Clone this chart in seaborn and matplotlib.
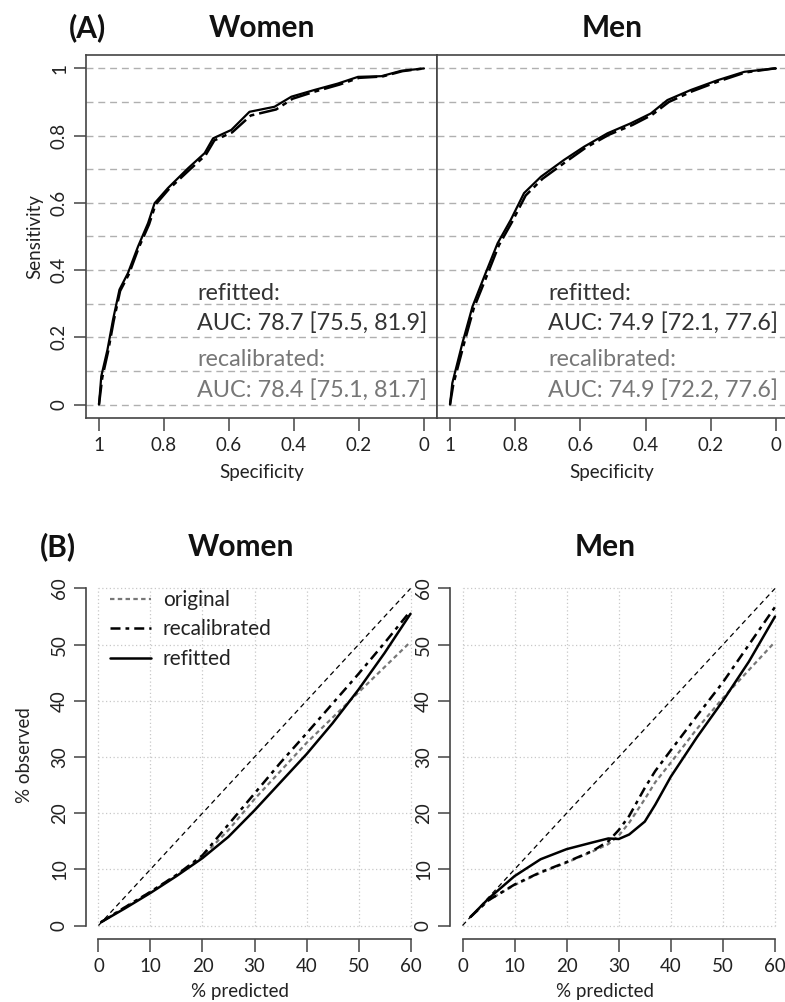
import matplotlib
matplotlib.use("Agg")
import matplotlib.pyplot as plt
import pandas as pd
import seaborn as sns

sns.set_style("white")
plt.rcParams["font.family"] = ["Lato", "DejaVu Sans"]

# ---- (A) ROC curves: specificity / sensitivity ----
women_refit_spec = [1.0, 0.993, 0.974, 0.957, 0.937, 0.911, 0.88, 0.849, 0.829, 0.788, 0.726,
                    0.675, 0.649, 0.593, 0.537, 0.46, 0.408, 0.337, 0.265, 0.203, 0.131, 0.07, 0.0]
women_refit_sens = [0.0, 0.084, 0.163, 0.252, 0.342, 0.391, 0.47, 0.54, 0.599, 0.644, 0.703,
                    0.748, 0.792, 0.817, 0.871, 0.886, 0.916, 0.936, 0.955, 0.975, 0.977, 0.993, 1.0]
women_recal_spec = [1.0, 0.99, 0.972, 0.955, 0.935, 0.908, 0.878, 0.846, 0.826, 0.785, 0.722,
                    0.672, 0.645, 0.59, 0.533, 0.455, 0.404, 0.333, 0.26, 0.2, 0.128, 0.066, 0.0]
women_recal_sens = [0.0, 0.08, 0.158, 0.248, 0.338, 0.388, 0.466, 0.536, 0.595, 0.641, 0.698,
                    0.742, 0.786, 0.81, 0.86, 0.878, 0.91, 0.932, 0.952, 0.972, 0.976, 0.992, 1.0]

men_refit_spec = [1.0, 0.993, 0.962, 0.931, 0.895, 0.854, 0.814, 0.773, 0.721, 0.65, 0.589,
                  0.517, 0.445, 0.384, 0.333, 0.261, 0.179, 0.097, 0.005, 0.0]
men_refit_sens = [0.0, 0.064, 0.183, 0.292, 0.381, 0.48, 0.549, 0.629, 0.678, 0.728, 0.767,
                  0.807, 0.837, 0.866, 0.906, 0.936, 0.965, 0.99, 1.0, 1.0]
men_recal_spec = [1.0, 0.99, 0.958, 0.927, 0.89, 0.85, 0.81, 0.768, 0.716, 0.645, 0.584,
                  0.512, 0.44, 0.38, 0.329, 0.257, 0.175, 0.094, 0.005, 0.0]
men_recal_sens = [0.0, 0.06, 0.178, 0.287, 0.376, 0.474, 0.543, 0.622, 0.672, 0.722, 0.764,
                  0.803, 0.832, 0.862, 0.9, 0.932, 0.962, 0.988, 1.0, 1.0]

roc_ticks = [1, 0.8, 0.6, 0.4, 0.2, 0]
roc_tick_labels = ["1", "0.8", "0.6", "0.4", "0.2", "0"]
roc_grid = [0.0, 0.1, 0.2, 0.3, 0.4, 0.5, 0.6, 0.7, 0.8, 0.9, 1.0]

women_auc = ["refitted:", "AUC: 78.7 [75.5, 81.9]", "recalibrated:", "AUC: 78.4 [75.1, 81.7]"]
men_auc = ["refitted:", "AUC: 74.9 [72.1, 77.6]", "recalibrated:", "AUC: 74.9 [72.2, 77.6]"]

# ---- (B) calibration curves: % predicted / % observed ----
women_pred = [0.5, 5, 10, 15, 20, 25, 30, 35, 40, 45, 50, 55, 60]
women_original = [0.6, 3.2, 6.0, 9.0, 12.3, 17.0, 22.5, 27.5, 32.5, 37.0, 41.5, 46.0, 50.5]
women_recal = [0.6, 3.2, 6.0, 9.0, 12.5, 18.0, 23.5, 29.0, 34.2, 39.5, 44.8, 50.3, 56.0]
women_refit = [0.6, 3.0, 5.8, 8.8, 12.0, 15.8, 20.5, 25.5, 30.5, 36.0, 42.0, 48.5, 55.5]

men_pred = [1.5, 5, 10, 15, 20, 25, 28, 30, 32, 35, 37, 40, 45, 50, 55, 60]
men_original = [1.5, 4.5, 7.2, 9.4, 11.2, 13.2, 14.5, 16.0, 18.3, 22.5, 25.5, 29.0, 35.0, 40.5, 45.5, 50.5]
men_recal = [1.5, 4.5, 7.3, 9.5, 11.3, 13.3, 15.0, 17.0, 19.5, 24.5, 27.5, 31.2, 37.3, 43.3, 50.0, 56.7]
men_refit = [1.5, 4.8, 8.8, 11.8, 13.6, 14.8, 15.5, 15.4, 16.2, 18.5, 21.5, 26.5, 33.5, 40.0, 47.0, 55.0]

diag = [0, 60]
cal_ticks = [0, 10, 20, 30, 40, 50, 60]

W, H = 785, 1002
fig = plt.figure(figsize=(W / 100, H / 100), dpi=100)


def box(left, top, right, bottom):
    return [left / W, 1 - bottom / H, (right - left) / W, (bottom - top) / H]


axis_col = "#444444"
text_col = "#222222"

# ---------------- panel A ----------------
roc_sets = [
    (box(86, 55, 437, 418), women_refit_spec, women_refit_sens, women_recal_spec, women_recal_sens, women_auc, True),
    (box(437, 55, 789, 418), men_refit_spec, men_refit_sens, men_recal_spec, men_recal_sens, men_auc, False),
]
for pos, rs, rse, cs, cse, auc, first in roc_sets:
    ax = fig.add_axes(pos)
    for g in roc_grid:
        ax.axhline(g, color="#b0b0b0", lw=1.0, linestyle=(0, (5, 3.5)), zorder=1)
    sns.lineplot(x=cs, y=cse, ax=ax, sort=False, estimator=None, color="black",
                 lw=1.8, linestyle=(0, (8, 2, 2, 2)), zorder=3)
    sns.lineplot(x=rs, y=rse, ax=ax, sort=False, estimator=None, color="black",
                 lw=1.6, zorder=4)
    ax.set_xlim(1.04, -0.04)
    ax.set_ylim(-0.04, 1.04)
    ax.set_xticks(roc_ticks)
    ax.set_xticklabels(roc_tick_labels)
    ax.set_xlabel("")
    ax.set_ylabel("")
    for s in ax.spines.values():
        s.set_visible(True)
        s.set_color(axis_col)
        s.set_linewidth(1.2)
    ax.tick_params(axis="x", direction="out", length=9, width=1.1, color=axis_col,
                   labelsize=13.5, labelcolor=text_col, pad=5, bottom=True)
    if first:
        ax.set_yticks(roc_ticks)
        ax.set_yticklabels(roc_tick_labels, rotation=90, va="center")
        ax.tick_params(axis="y", direction="out", length=9, width=1.1, color=axis_col,
                       labelsize=13.5, labelcolor=text_col, pad=4, left=True)
    else:
        ax.set_yticks([])
    ys = [0.344, 0.261, 0.160, 0.077]
    cols = ["#333333", "#333333", "#777777", "#777777"]
    for txt, yy, c in zip(auc, ys, cols):
        ax.text(0.316, yy, txt, transform=ax.transAxes, ha="left", va="center",
                fontsize=16.8, color=c, zorder=5)

# ---------------- panel B ----------------
cal_sets = [
    (box(86, 575, 423, 939), women_pred, women_original, women_recal, women_refit, True),
    (box(450, 575, 787.5, 939), men_pred, men_original, men_recal, men_refit, False),
]
for pos, xp, orig, recal, refit, first in cal_sets:
    ax = fig.add_axes(pos)
    ax.hlines(cal_ticks, 0, 60, color="#c8c8c8", lw=0.9, linestyle=(0, (1, 2)), zorder=1)
    ax.vlines(cal_ticks, 0, 60, color="#c8c8c8", lw=0.9, linestyle=(0, (1, 2)), zorder=1)
    sns.lineplot(x=diag, y=diag, ax=ax, color="black", lw=0.9,
                 linestyle=(0, (4, 3)), sort=False, estimator=None, zorder=2)
    sns.lineplot(x=xp, y=orig, ax=ax, color="#777777", lw=1.6, linestyle=(0, (2, 1.5)),
                 sort=False, estimator=None, label="original", zorder=3)
    sns.lineplot(x=xp, y=recal, ax=ax, color="black", lw=1.8, linestyle=(0, (4, 2, 1.5, 2)),
                 sort=False, estimator=None, label="recalibrated", zorder=3)
    sns.lineplot(x=xp, y=refit, ax=ax, color="black", lw=1.8,
                 sort=False, estimator=None, label="refitted", zorder=4)
    ax.set_xlim(-2.4, 62.4)
    ax.set_ylim(-2.4, 62.4)
    ax.set_xticks(cal_ticks)
    ax.set_yticks(cal_ticks)
    ax.set_yticklabels([str(t) for t in cal_ticks], rotation=90, va="center")
    ax.set_xlabel("")
    ax.set_ylabel("")
    for side in ["top", "right"]:
        ax.spines[side].set_visible(False)
    for side in ["left", "bottom"]:
        ax.spines[side].set_visible(True)
        ax.spines[side].set_color(axis_col)
        ax.spines[side].set_linewidth(1.2)
        ax.spines[side].set_bounds(0, 60)
    ax.tick_params(direction="out", length=9, width=1.1, color=axis_col,
                   labelsize=13.5, labelcolor=text_col, left=True, bottom=True)
    ax.tick_params(axis="x", pad=5)
    ax.tick_params(axis="y", pad=4)
    if first:
        ax.legend(loc="upper left", frameon=False, fontsize=15, handlelength=2.0,
                  handletextpad=0.55, labelspacing=0.45, bbox_to_anchor=(0.015, 1.01),
                  labelcolor="#222222")
    else:
        ax.get_legend().remove()

# ---------------- titles and labels ----------------
title_kw = dict(fontsize=21.5, fontweight="bold", ha="center", va="center", color="#111111")
fig.text(87 / W, 1 - 28 / H, "(A)", **title_kw)
fig.text(262 / W, 1 - 28 / H, "Women", **title_kw)
fig.text(612 / W, 1 - 28 / H, "Men", **title_kw)
fig.text(58 / W, 1 - 547 / H, "(B)", **title_kw)
fig.text(241 / W, 1 - 547 / H, "Women", **title_kw)
fig.text(605 / W, 1 - 547 / H, "Men", **title_kw)

lab_kw = dict(fontsize=13.5, ha="center", va="center", color=text_col)
fig.text(262 / W, 1 - 473 / H, "Specificity", **lab_kw)
fig.text(612 / W, 1 - 473 / H, "Specificity", **lab_kw)
fig.text(35 / W, 1 - 237 / H, "Sensitivity", rotation=90, **lab_kw)
fig.text(240 / W, 1 - 992 / H, "% predicted", **lab_kw)
fig.text(605 / W, 1 - 992 / H, "% predicted", **lab_kw)
fig.text(25 / W, 1 - 755 / H, "% observed", rotation=90, **lab_kw)

fig.savefig("out.png", dpi=100, facecolor="white")
